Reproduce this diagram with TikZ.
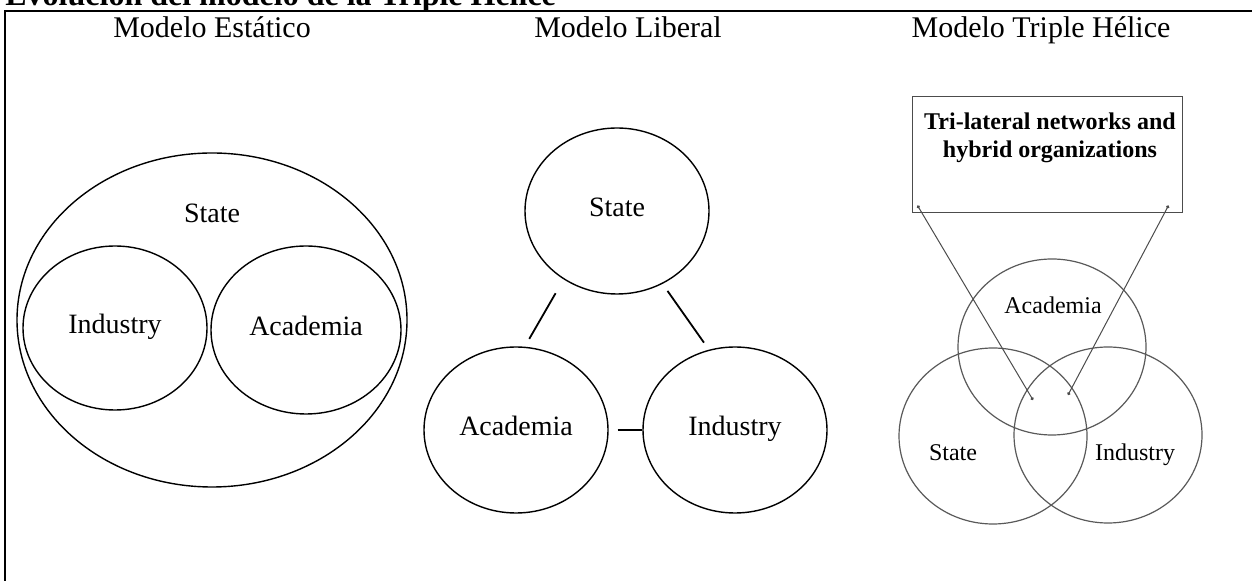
\documentclass[tikz,border=0pt]{standalone}
\usepackage{fontspec}
\setmainfont{Liberation Serif}
\usetikzlibrary{shapes.geometric,arrows.meta}

\begin{document}
\begin{tikzpicture}[
    x=0.5pt, y=-0.5pt,
    heading/.style={anchor=base, font=\fontsize{15}{18}\selectfont},
    oval/.style={ellipse, draw, line width=0.7pt, inner sep=0pt, text height=1.5ex, text depth=0.25ex, font=\fontsize{14}{16}\selectfont},
    venn/.style={ellipse, draw=black!65, line width=0.6pt, inner sep=0pt, minimum width=94pt, minimum height=88pt},
    lbl/.style={font=\fontsize{12}{14}\selectfont},
    link/.style={line width=0.9pt},
    pointer/.style={{Circle[length=1.6pt]}-{Circle[length=1.6pt]}, draw=black!70, line width=0.5pt}
]
    \useasboundingbox (0,0) rectangle (1252,581);
    \clip (0,0) rectangle (1252,581);

    % Titulo y marco
    \node[anchor=base west, inner sep=0pt, font=\fontsize{16}{18}\selectfont\bfseries] (title) at (5,6) {Evolución del modelo de la Triple Hélice};
    \draw[line width=1pt] (1252,11) -- (5,11) -- (5,581);

    % Modelo Estatico
    \node[heading] (estatico) at (212,38) {Modelo Estático};
    \node[oval, minimum width=195pt, minimum height=167pt] (stateA) at (212,320) {};
    \node[font=\fontsize{14}{16}\selectfont] (stateAtext) at (212,213) {State};
    \node[oval, minimum width=92pt, minimum height=82pt] (industryA) at (115,328) {Industry};
    \node[oval, minimum width=95pt, minimum height=84pt] (academiaA) at (306,330) {Academia};

    % Modelo Liberal
    \node[heading] (liberal) at (628,38) {Modelo Liberal};
    \node[oval, minimum width=92pt, minimum height=83pt] (stateB) at (617,211) {State};
    \node[oval, minimum width=92pt, minimum height=83pt] (academiaB) at (516,430) {Academia};
    \node[oval, minimum width=92pt, minimum height=83pt] (industryB) at (735,430) {Industry};

    \draw[link, shorten <=8pt, shorten >=4.5pt] (stateB.232) -- (academiaB.84);
    \draw[link, shorten <=4.3pt, shorten >=4.3pt] (stateB.302) -- (industryB.108);
    \draw[link, shorten <=4.5pt] (academiaB.east) -- (industryB.west);

    % Modelo Triple Helice
    \node[heading] (triple) at (1041,38) {Modelo Triple Hélice};
    \node[draw=black!70, line width=0.5pt, minimum width=135pt, minimum height=58pt, inner sep=0pt] (net) at (1047,155) {};
    \node[align=center, font=\fontsize{12}{14}\selectfont\bfseries] (nettext) at (1050,138) {Tri-lateral networks and\\hybrid organizations};

    \node[venn] (academiaC) at (1052,347) {};
    \node[venn] (stateC) at (993,436) {};
    \node[venn] (industryC) at (1108,435) {};
    \node[lbl] (academiaCtext) at (1053,305) {Academia};
    \node[lbl] (stateCtext) at (953,453) {State};
    \node[lbl] (industryCtext) at (1135,455) {Industry};

    \coordinate (hybL) at (1033,400);
    \coordinate (hybR) at (1068,395);
    \draw[pointer] ([shift={(6,-8)}]net.south west) -- (hybL);
    \draw[pointer] ([shift={(-14,-8)}]net.south east) -- (hybR);
\end{tikzpicture}
\end{document}
